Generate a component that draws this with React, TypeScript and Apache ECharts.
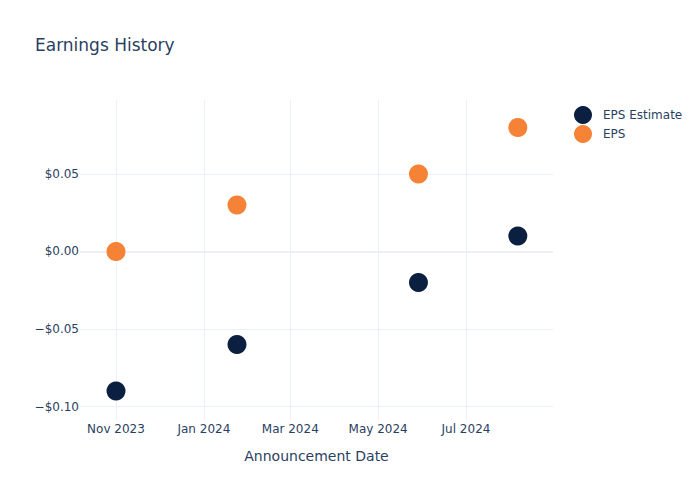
import React, { useEffect, useRef } from "react";
import * as echarts from "echarts";

const seriesNames = ["EPS Estimate", "EPS"];
const announcementDates = ["2023-11-01", "2024-01-24", "2024-05-29", "2024-08-06"];
const epsEstimate = [-0.09, -0.06, -0.02, 0.01];
const epsActual = [0.0, 0.03, 0.05, 0.08];
const xTickDates = ["2023-11-01", "2024-01-01", "2024-03-01", "2024-05-01", "2024-07-01"];
const yTickValues = [-0.1, -0.05, 0, 0.05];

const MONTHS = ["Jan", "Feb", "Mar", "Apr", "May", "Jun", "Jul", "Aug", "Sep", "Oct", "Nov", "Dec"];
const ts = (s: string) => {
  const [y, m, d] = s.split("-").map(Number);
  return Date.UTC(y, m - 1, d);
};

export default function App() {
  const ref = useRef<HTMLDivElement>(null);
  useEffect(() => {
    if (!ref.current) return;
    const chart = echarts.init(ref.current, undefined, { renderer: "svg" });
    const font = "'DejaVu Sans', sans-serif";
    const textColor = "#2a3f5f";
    const gridColor = "#ebf0f8";
    chart.setOption({
      animation: false,
      backgroundColor: "#ffffff",
      textStyle: { fontFamily: font },
      title: {
        text: "Earnings History",
        left: 30,
        top: 31,
        textStyle: { fontFamily: font, fontSize: 17, fontWeight: "normal", color: textColor },
      },
      legend: {
        orient: "vertical",
        left: 569,
        top: 101,
        icon: "circle",
        itemWidth: 30,
        itemHeight: 18,
        itemGap: 1,
        textStyle: { fontFamily: font, fontSize: 12, color: textColor },
        data: seriesNames,
      },
      grid: { left: 80, right: 147, top: 100, bottom: 80, containLabel: false },
      xAxis: {
        type: "value",
        min: Date.UTC(2023, 9, 7),
        max: Date.UTC(2024, 7, 30, 10),
        name: "Announcement Date",
        nameLocation: "middle",
        nameGap: 29,
        nameTextStyle: { fontFamily: font, fontSize: 14, color: textColor },
        axisLine: { show: false },
        axisTick: { show: false, customValues: xTickDates.map(ts) },
        axisLabel: {
          customValues: xTickDates.map(ts),
          fontFamily: font,
          fontSize: 12,
          color: textColor,
          margin: 3,
          formatter: (v: number) => {
            const d = new Date(v);
            return MONTHS[d.getUTCMonth()] + " " + d.getUTCFullYear();
          },
        },
        splitLine: { show: true, lineStyle: { color: gridColor, width: 1 } },
      },
      yAxis: {
        type: "value",
        min: -0.1087,
        max: 0.0977,
        axisLine: { show: false },
        axisTick: { show: false, customValues: yTickValues },
        axisLabel: {
          customValues: yTickValues,
          fontFamily: font,
          fontSize: 12,
          color: textColor,
          margin: 1,
          formatter: (v: number) => {
            const r = Math.round(v * 100) / 100;
            return (r < 0 ? "\u2212$" : "$") + Math.abs(r).toFixed(2);
          },
        },
        splitLine: { show: true, lineStyle: { color: gridColor, width: 1 } },
      },
      series: [
        {
          name: seriesNames[0],
          type: "scatter",
          symbolSize: 19,
          itemStyle: { color: "#0b1f41", opacity: 1 },
          data: announcementDates.map((d, i) => [ts(d), epsEstimate[i]]),
          z: 3,
          markLine: {
            silent: true,
            symbol: "none",
            label: { show: false },
            lineStyle: { color: gridColor, width: 2, type: "solid" },
            data: [{ yAxis: 0 }],
            z: 1,
          },
        },
        {
          name: seriesNames[1],
          type: "scatter",
          symbolSize: 19,
          itemStyle: { color: "#f58235", opacity: 1 },
          data: announcementDates.map((d, i) => [ts(d), epsActual[i]]),
          z: 4,
        },
      ],
    });
    return () => chart.dispose();
  }, []);
  return (
    <div
      ref={ref}
      style={{ position: "absolute", left: 0, top: 0, width: 700, height: 500 }}
    />
  );
}
